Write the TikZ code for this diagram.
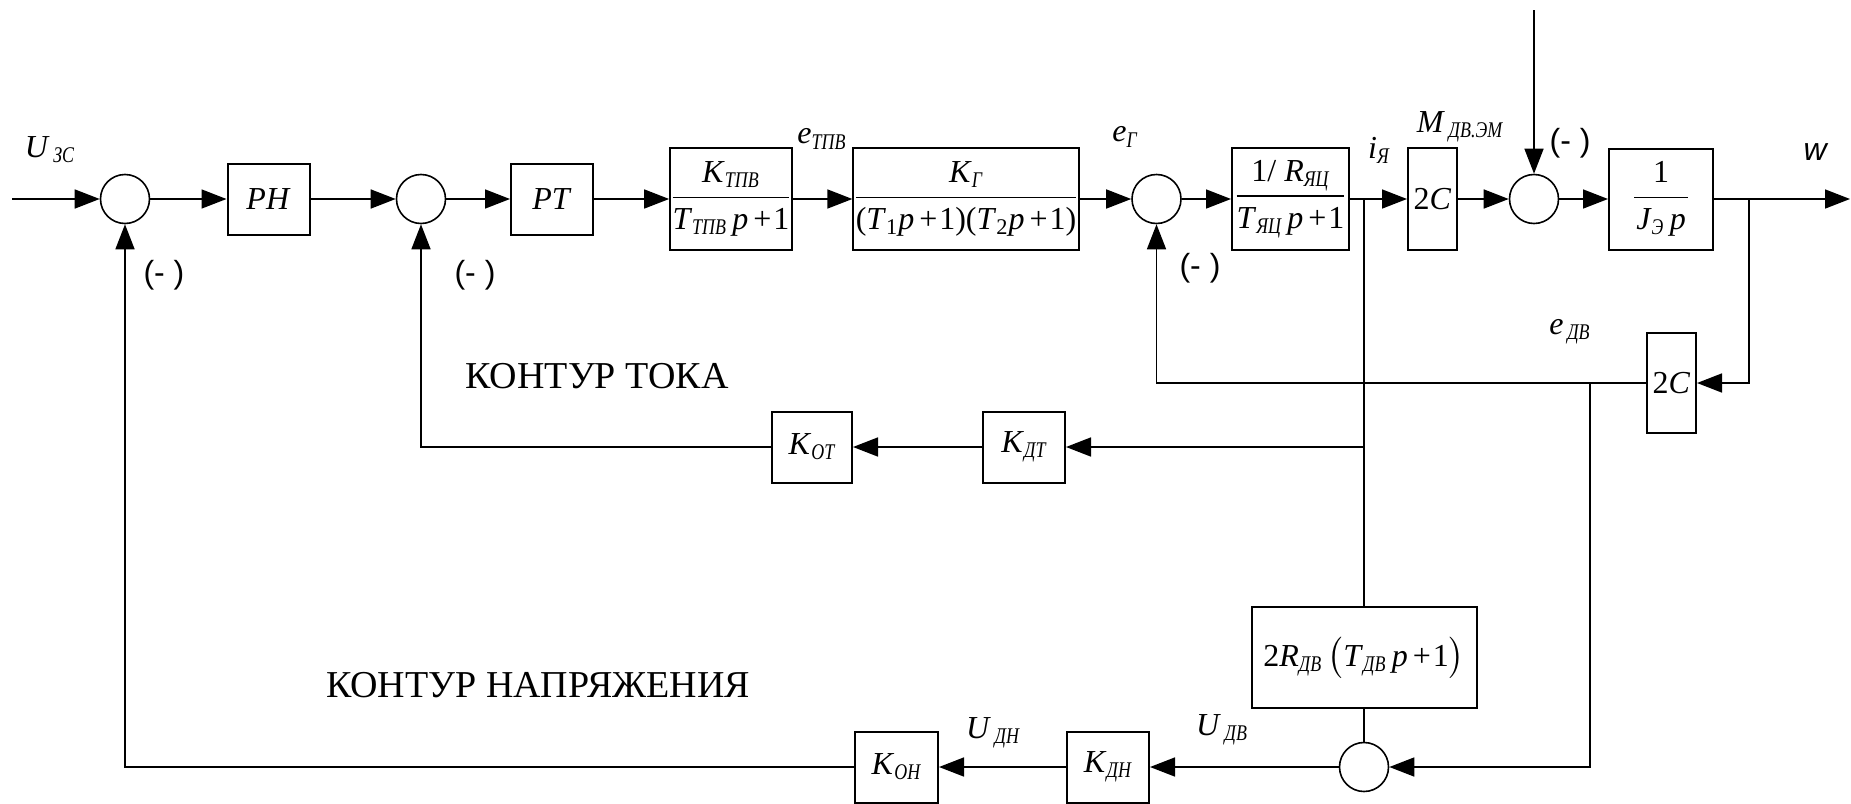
\documentclass[tikz,border=0pt]{standalone}
\usepackage{amsmath}
\usepackage{fontspec}
\setmainfont{Liberation Serif}
\newfontfamily\sansfam{Liberation Sans}
\newfontfamily\subfam[FakeStretch=0.8]{Liberation Serif}
\usetikzlibrary{arrows.meta}
\newcommand{\vsub}[2]{\textit{#1}\textsubscript{\subfam\itshape #2}}
\newcommand{\blkfrac}[2]{$\displaystyle\frac{\hbox{#1}}{\hbox{#2}}$}
\newcommand{\plusone}{\kern2.5pt+\kern1pt1}

\begin{document}
\begin{tikzpicture}[x=0.5pt, y=-0.5pt,
  every node/.style={font=\fontsize{16}{19}\selectfont, inner sep=0pt},
  block/.style={draw, line width=1pt, minimum width=#1},
  block/.default=41pt,
  summer/.style={draw, circle, line width=0.8pt, minimum size=24.5pt},
  arr/.style={line width=0.8pt, -{Triangle[length=12.5pt, width=9.5pt]}},
  wire/.style={line width=0.8pt},
  minus/.style={font=\sansfam\fontsize{16}{19}\selectfont},
  caption/.style={font=\fontsize{19}{23}\selectfont}]
\useasboundingbox (0,0) rectangle (1851,803);

% forward path
\coordinate (in) at (12,199);
\node[summer] (s1) at (125,199) {};
\node[block, minimum height=35.5pt] (rn) at (268.5,199) {\textit{РН}};
\node[summer] (s2) at (421,199) {};
\node[block, minimum height=35.5pt] (rt) at (552,199) {\textit{РТ}};
\node[block=59pt, minimum height=51pt] (tpv) at (731,199)
  {\blkfrac{\vsub{K}{ТПВ}}{\vsub{T}{ТПВ}\,\textit{p}\plusone}};
\node[block=112pt, minimum height=51pt] (gen) at (966,199)
  {\blkfrac{\vsub{K}{Г}}{(\textit{T}\textsubscript{1}\textit{p}\plusone)(\textit{T}\textsubscript{2}\textit{p}\plusone)}};
\node[summer] (s3) at (1156.5,199) {};
\node[block=58.5pt, minimum height=51pt] (ya) at (1290.5,199)
  {\blkfrac{1/ \vsub{R}{ЯЦ}}{\vsub{T}{ЯЦ}\,\textit{p}\plusone}};
\node[block=24.5pt, minimum height=51pt] (cm) at (1432.5,199) {2\textit{C}};
\node[summer] (s4) at (1534,199) {};
\node[block=52pt, minimum height=50.5pt] (jp) at (1661,199)
  {\blkfrac{\hbox to 27pt{\hfil 1\hfil}}{\vsub{J}{Э}\,\textit{p}}};
\coordinate (out) at (1850,199);
\coordinate (dist) at (1534,10);
\coordinate (bi) at (1364,199);
\coordinate (bw) at (1749,199);

% feedback blocks
\node[block=24.5pt, minimum height=50pt] (ce) at (1671.5,383) {2\textit{C}};
\coordinate (je) at (1590,383);
\coordinate (bt) at (1364,447);
\node[block, minimum height=35.5pt] (kdt) at (1024,447) {\vsub{K}{ДТ}};
\node[block=40pt, minimum height=35.5pt] (kot) at (812,447) {\vsub{K}{ОТ}};
\node[block=112.5pt, minimum height=50.5pt] (rdv) at (1364,657.5)
  {2\vsub{R}{ДВ}\,$\bigl($\vsub{T}{ДВ}\,\textit{p}\plusone$\bigr)$};
\node[summer] (s5) at (1364,767) {};
\node[block, minimum height=35.5pt] (kdn) at (1108,767) {\vsub{K}{ДН}};
\node[block=41.5pt, minimum height=35.5pt] (kon) at (896.5,767) {\vsub{K}{ОН}};

% signal labels
\node (lu) at (50,150) {\vsub{U}{\,ЗС}};
\node (le) at (822,139) {\vsub{e}{ТПВ}};
\node (lg) at (1125,137) {\vsub{e}{Г}};
\node (li) at (1379,150) {\vsub{i}{Я}};
\node (lm) at (1460,127) {\vsub{M}{\,ДВ.ЭМ}};
\node[minus] (lw) at (1816,152) {\textit{w}};
\node (led) at (1570,332) {\vsub{e}{\,ДВ}};
\node (lud) at (1222,730) {\vsub{U}{\,ДВ}};
\node (lun) at (993,733) {\vsub{U}{\,ДН}};
\foreach \nm/\x/\y in {m1/164/275, m2/475/275, m3/1200/268, m4/1570/143}
  \node[minus] (\nm) at (\x,\y) {(- )};
\node[caption] (ct) at (597,376) {КОНТУР ТОКА};
\node[caption] (cn) at (538,685) {КОНТУР НАПРЯЖЕНИЯ};

% forward connectors
\draw[arr] (in) -- (s1);
\foreach \a/\b in {s1/rn, rn/s2, s2/rt, rt/tpv, tpv/gen, gen/s3, s3/ya, ya/cm, cm/s4, s4/jp}
  \draw[arr] (\a) -- (\b);
\draw[arr] (jp) -- (out);
\draw[arr] (dist) -- (s4);

% feedback connectors
\draw[arr] (bw) |- (ce.east);
\draw[arr] (ce.west) -| (s3.south);
\draw[arr] (je) |- (s5.east);
\draw[wire] (bi) -- (rdv.north);
\draw[wire] (rdv.south) -- (s5.north);
\draw[arr] (bt) -- (kdt.east);
\draw[arr] (kdt.west) -- (kot.east);
\draw[arr] (kot.west) -| (s2.south);
\draw[arr] (s5.west) -- (kdn.east);
\draw[arr] (kdn.west) -- (kon.east);
\draw[arr] (kon.west) -| (s1.south);
\end{tikzpicture}
\end{document}
